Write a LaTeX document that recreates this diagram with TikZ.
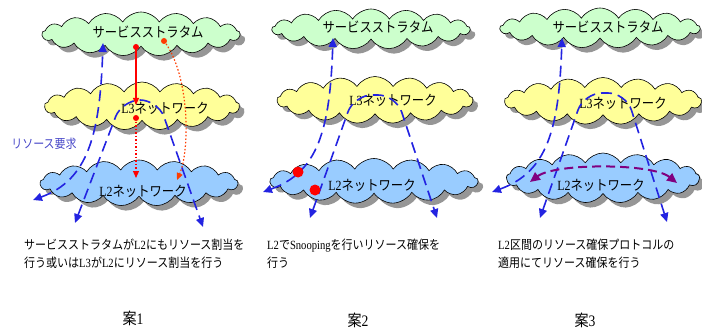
\documentclass[tikz,border=0pt]{standalone}
\usepackage{fontspec}
\setmainfont{Noto Sans CJK JP}[FakeStretch=0.88]
\newfontfamily\lat{Liberation Serif}[FakeStretch=0.85]
\usetikzlibrary{shapes.symbols,arrows.meta}
\definecolor{cgreen}{RGB}{204,255,204}
\definecolor{cyellow}{RGB}{255,255,153}
\definecolor{cblue}{RGB}{153,204,255}
\definecolor{shgray}{RGB}{150,150,150}
\definecolor{lblue}{RGB}{35,35,225}
\definecolor{tblue}{RGB}{70,70,200}
\definecolor{cred}{RGB}{255,0,0}
\definecolor{cored}{RGB}{255,60,0}
\definecolor{cpurple}{RGB}{128,0,128}
\tikzset{
  cloudbase/.style={cloud, cloud puffs=17, cloud puff arc=115, cloud ignores aspect, inner sep=0pt},
  cl/.style={cloudbase, draw=black, line width=0.6pt},
  sh/.style={cloudbase, fill=shgray, draw=none},
  cloudtext/.style={font=\fontsize{14}{16}\selectfont, inner sep=0pt},
  bottomtext/.style={font=\fontsize{12.5}{18}\selectfont, align=left, anchor=west, inner sep=0pt},
  pantitle/.style={font=\fontsize{16}{18}\selectfont, inner sep=0pt},
  bl/.style={draw=lblue, line width=1.6pt, dash pattern=on 11pt off 6pt, {Triangle[length=9pt,width=8pt]}-{Triangle[length=9pt,width=8pt]}},
  redsolid/.style={draw=cred, line width=1.2pt, -{Triangle[length=7pt,width=6pt]}},
  reddot/.style={draw=cred, line width=1.2pt, dash pattern=on 1.5pt off 2pt, -{Triangle[length=7pt,width=6pt]}},
  oreddot/.style={draw=cored, line width=1.2pt, dash pattern=on 1.5pt off 2pt, -{Triangle[length=7pt,width=6pt]}},
  purp/.style={draw=cpurple, line width=2pt, dash pattern=on 9pt off 5pt, {Triangle[length=10pt,width=9pt]}-{Triangle[length=10pt,width=9pt]}},
  dot/.style={circle, fill=cred, inner sep=0pt, minimum size=6pt},
  bigdot/.style={circle, fill=cred, inner sep=0pt, minimum size=11pt},
}
\newcommand\mycloud[6]{%
  \node[sh, minimum width=#4pt, minimum height=#5pt] (#1sh) at ({#2+5},{#3+5}) {};
  \node[cl, fill=#6, minimum width=#4pt, minimum height=#5pt] (#1) at (#2,#3) {};
}
\begin{document}
\begin{tikzpicture}[x=1pt,y=-1pt]
\useasboundingbox (0,0) rectangle (702,329);
% panel 1 clouds
\mycloud{sa}{141}{34}{198}{44}{cgreen}
\mycloud{la}{142}{106}{195}{48}{cyellow}
\mycloud{ka}{139}{183}{198}{46}{cblue}
% panel 2 clouds
\mycloud{sb}{371}{29}{198}{40}{cgreen}
\mycloud{lb}{375}{100}{196}{47}{cyellow}
\mycloud{kb}{374}{181}{208}{45}{cblue}
% panel 3 clouds
\mycloud{sc}{600}{28}{200}{40}{cgreen}
\mycloud{lc}{603}{101}{197}{47}{cyellow}
\mycloud{kc}{603}{178}{193}{50}{cblue}
% cloud labels
\node[cloudtext] (tsa) at (148,32) {サービスストラタム};
\node[cloudtext] (tla) at (165,108) {{\lat L3}ネットワーク};
\node[cloudtext] (tka) at (143,191) {{\lat L2}ネットワーク};
\node[cloudtext] (tsb) at (378,27) {サービスストラタム};
\node[cloudtext] (tlb) at (393,100) {{\lat L3}ネットワーク};
\node[cloudtext] (tkb) at (372,185) {{\lat L2}ネットワーク};
\node[cloudtext] (tsc) at (608,27) {サービスストラタム};
\node[cloudtext] (tlc) at (623,103) {{\lat L3}ネットワーク};
\node[cloudtext] (tkc) at (601,185) {{\lat L2}ネットワーク};
% request label
\node[font=\fontsize{12.5}{14}\selectfont, text=tblue, inner sep=0pt] (req) at (44,144) {リソース要求};
% coordinates
\coordinate (p1t) at (103,43);  \coordinate (p1b) at (33,200);
\coordinate (p2t) at (333,38);  \coordinate (p2b) at (263,192);
\coordinate (p3t) at (562,38);  \coordinate (p3b) at (492,192);
\coordinate (u1l) at (75,223);  \coordinate (u1r) at (203,227);
\coordinate (u2l) at (310,218); \coordinate (u2r) at (437,218);
\coordinate (u3l) at (540,218); \coordinate (u3r) at (667,222);
% blue dashed paths
\draw[bl] (p1b) .. controls (88,180) and (100,135) .. (p1t);
\draw[bl] (p2b) .. controls (318,172) and (330,130) .. (p2t);
\draw[bl] (p3b) .. controls (547,172) and (559,130) .. (p3t);
\draw[bl, rounded corners=18pt] (u1l) -- (122,100) -- (158,100) -- (u1r);
\draw[bl, rounded corners=18pt] (u2l) -- (354,95) -- (396,95) -- (u2r);
\draw[bl, rounded corners=18pt] (u3l) -- (584,93) -- (626,93) -- (u3r);
% panel 1 red arrows
\node[dot] (d1) at (136,47) {};
\node[dot] (d2) at (136,118) {};
\node[dot, fill=cored] (d3) at (164,41) {};
\coordinate (e1) at (136,105);
\coordinate (e2) at (136,178);
\coordinate (e3) at (177,180);
\draw[redsolid] (d1.center) -- (e1);
\draw[reddot] (d2.center) -- (e2);
\draw[oreddot] (d3.center) .. controls (190,75) and (190,150) .. (e3);
% panel 2 dots
\node[bigdot] (r1) at (298,172) {};
\node[bigdot] (r2) at (315,190) {};
% panel 3 purple arc
\coordinate (q1) at (530,182);
\coordinate (q2) at (677,183);
\draw[purp] (q1) .. controls (555,163) and (652,163) .. (q2);
% bottom texts
\node[bottomtext] (ba) at (24,254) {サービスストラタムが{\lat L2}にもリソース割当を\\行う或いは{\lat L3}が{\lat L2}にリソース割当を行う};
\node[bottomtext] (bb) at (267,254) {{\lat L2}で{\lat Snooping}を行いリソース確保を\\行う};
\node[bottomtext] (bc) at (498,254) {{\lat L2}区間のリソース確保プロトコルの\\適用にてリソース確保を行う};
\node[pantitle] (an1) at (133,318) {案{\lat 1}};
\node[pantitle] (an2) at (358,320) {案{\lat 2}};
\node[pantitle] (an3) at (585,320) {案{\lat 3}};
\end{tikzpicture}
\end{document}
